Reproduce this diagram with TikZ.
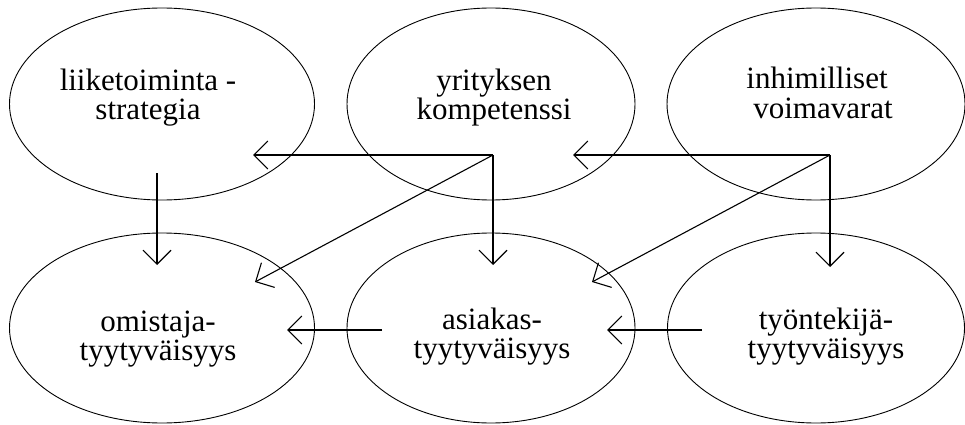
\documentclass[tikz,border=0pt]{standalone}
\usepackage{fontspec}
\setmainfont{Liberation Serif}
\usetikzlibrary{shapes.geometric,arrows.meta}
\begin{document}
\begin{tikzpicture}[x=1pt,y=-1pt,
  oval/.style={draw=black, line width=0.9pt, ellipse, inner sep=0pt, minimum height=192pt},
  lbl/.style={font=\fontsize{31}{29}\selectfont, align=center, inner sep=0pt, anchor=base},
  conn/.style={draw=black, line width=1.1pt, -{Straight Barb[length=14pt,width=28pt]}}]
\useasboundingbox (0,0) rectangle (965,425);
% ellipses
\node[oval, minimum width=305pt] (E1) at (162,104) {};
\node[oval, minimum width=288pt] (E2) at (491,104) {};
\node[oval, minimum width=298pt] (E3) at (816,104) {};
\node[oval, minimum width=305pt, minimum height=190pt] (B1) at (162,328) {};
\node[oval, minimum width=288pt, minimum height=190pt] (B2) at (491,328) {};
\node[oval, minimum width=297pt, minimum height=190pt] (B3) at (816,328) {};
% labels (anchor base = baseline of the last line)
\node[lbl] (T1) at (148,120) {liiketoiminta -\\strategia};
\node[lbl] (T2) at (494,120) {yrityksen\\kompetenssi};
\node[lbl] (T3) at (817,118) {inhimilliset\\\hspace*{12pt}voimavarat};
\node[lbl] (T4) at (158,360) {omistaja-\\tyytyväisyys};
\node[lbl] (T5) at (492,358) {asiakas-\\tyytyväisyys};
\node[lbl] (T6) at (826,358) {työntekijä-\\tyytyväisyys};
% connector points
\coordinate (s1) at (157,173);
\coordinate (t1) at (157,265);
\coordinate (h2) at (493,155);
\coordinate (t2a) at (253,155);
\coordinate (t2b) at (493,265);
\coordinate (t2c) at (255,282);
\coordinate (h3) at (830,155);
\coordinate (t3a) at (573,155);
\coordinate (t3b) at (830,267);
\coordinate (t3c) at (592,282);
\coordinate (s4) at (382,330);
\coordinate (t4) at (287,330);
\coordinate (s5) at (702,330);
\coordinate (t5) at (607,330);
% connectors
\draw[conn] (s1) -- (t1);
\draw[conn] (h2) -- (t2a);
\draw[conn] (h2) -- (t2b);
\draw[conn] (h2) -- (t2c);
\draw[conn] (h3) -- (t3a);
\draw[conn] (h3) -- (t3b);
\draw[conn] (h3) -- (t3c);
\draw[conn] (s4) -- (t4);
\draw[conn] (s5) -- (t5);
\end{tikzpicture}
\end{document}
